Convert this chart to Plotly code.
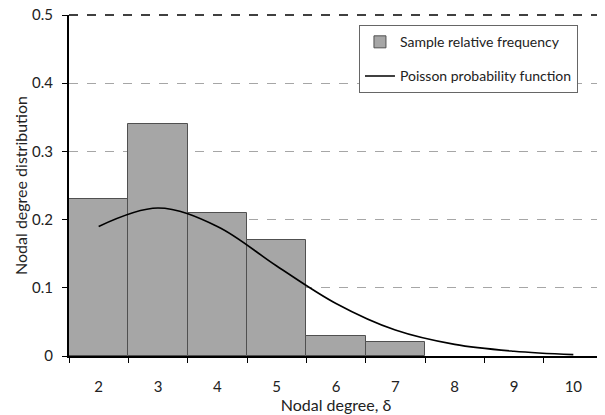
import plotly.graph_objects as go

categories = ["2", "3", "4", "5", "6", "7", "8", "9", "10"]
bar_categories = ["2", "3", "4", "5", "6", "7"]
sample_freq = [0.23, 0.34, 0.21, 0.17, 0.03, 0.02]
poisson_vals = [0.19, 0.217, 0.19, 0.132, 0.077, 0.038, 0.017, 0.007, 0.002]
y_ticks = [0, 0.1, 0.2, 0.3, 0.4, 0.5]
y_ticktext = ["0", "0.1", "0.2", "0.3", "0.4", "0.5"]

FONT = "Lato, 'Open Sans', sans-serif"

fig = go.Figure()
fig.add_trace(go.Bar(
    x=bar_categories, y=sample_freq, name="Sample relative frequency",
    legendgroup="a",
    marker=dict(color="#a6a6a6", line=dict(color="#505050", width=1)),
))
fig.add_trace(go.Scatter(
    x=categories, y=poisson_vals, name="Poisson probability function",
    legendgroup="b",
    mode="lines", line=dict(color="black", width=1.6, shape="spline", smoothing=1),
))

# the page body has an ~8px default margin, so the figure is sized to fit the window
fig.update_layout(
    width=597, height=407,
    margin=dict(l=61, r=2, t=7, b=59),
    paper_bgcolor="white", plot_bgcolor="white",
    bargap=0,
    font=dict(family=FONT, size=15, color="#222"),
    showlegend=True,
    legend=dict(
        x=0.543, y=0.97, xanchor="left", yanchor="top",
        bgcolor="white", bordercolor="#666", borderwidth=1,
        font=dict(size=14, color="#222"),
        itemwidth=30, tracegroupgap=13,
    ),
    xaxis=dict(
        type="category", categoryorder="array", categoryarray=categories,
        range=[-0.5, 8.5], automargin=False,
        tickson="boundaries", ticks="outside", ticklen=5, tickcolor="black",
        ticklabelstandoff=16, ticklabeloverflow="allow",
        showline=True, linecolor="black", linewidth=2, mirror=False,
        showgrid=False, zeroline=False,
        title=dict(text="Nodal degree, δ", font=dict(size=16), standoff=0),
        tickfont=dict(size=15),
    ),
    yaxis=dict(
        range=[0, 0.5], tickvals=y_ticks, ticktext=y_ticktext, automargin=False,
        ticks="outside", ticklen=5, tickcolor="black",
        ticklabelstandoff=6, ticklabeloverflow="allow",
        showline=True, linecolor="black", linewidth=2,
        showgrid=True, gridcolor="#a6a6a6", griddash="dash", gridwidth=1,
        zeroline=False,
        title=dict(text="Nodal degree distribution", font=dict(size=16), standoff=0),
        tickfont=dict(size=15),
    ),
    shapes=[
        dict(type="line", xref="paper", yref="paper", x0=0, x1=1, y0=1, y1=1,
             line=dict(color="#404040", width=2, dash="dash")),
        dict(type="line", xref="paper", yref="paper", x0=1, x1=1, y0=0, y1=1,
             line=dict(color="black", width=1.5)),
    ],
)

fig.write_html("out.html")
